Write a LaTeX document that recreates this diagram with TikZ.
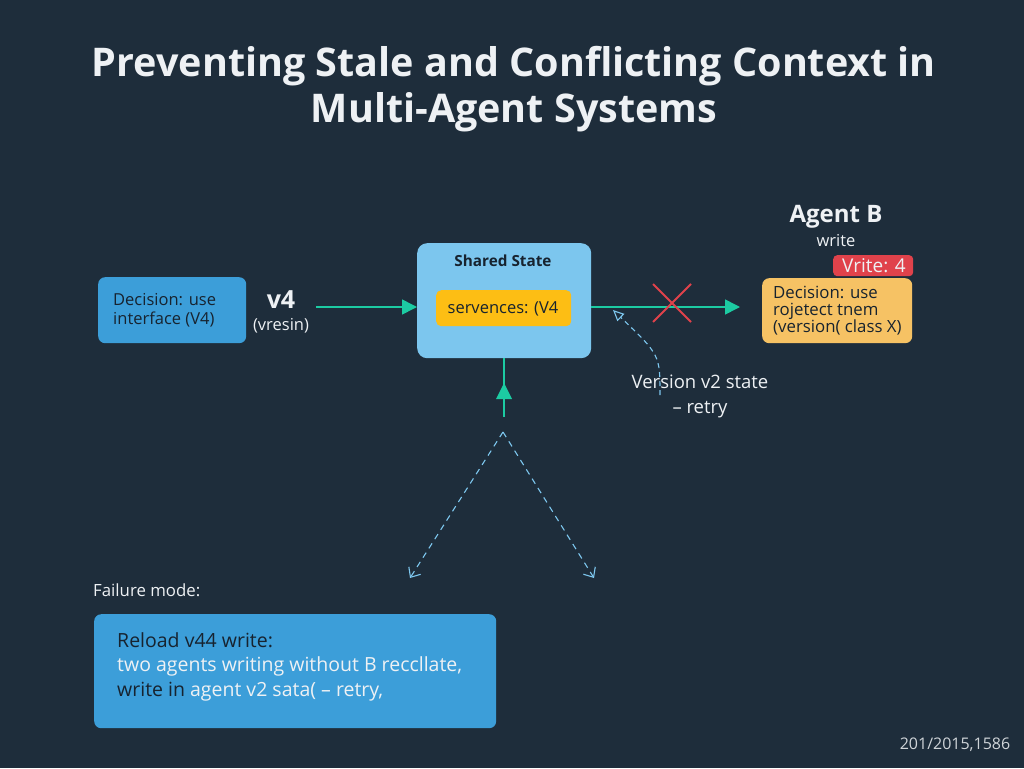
\documentclass[tikz,border=0pt]{standalone}
\usepackage{fontspec}
\setmainfont{Open Sans}
\usetikzlibrary{arrows.meta,calc}
\definecolor{bg}{HTML}{1E2D3B}
\definecolor{boxblue}{HTML}{3C9ED9}
\definecolor{shared}{HTML}{7CC6EE}
\definecolor{yel}{HTML}{FDBE14}
\definecolor{orng}{HTML}{F6C264}
\definecolor{teal}{HTML}{1CCBA2}
\definecolor{redx}{HTML}{E0424B}
\definecolor{dashb}{HTML}{7EC8F0}
\definecolor{darktext}{HTML}{17232F}
\definecolor{lighttext}{HTML}{EEF1F4}
\begin{document}
\begin{tikzpicture}[x=1pt,y=-1pt,
  box/.style={rounded corners=7pt, inner sep=0pt, anchor=north west},
  btext/.style={font=\fontsize{16.5}{18.5}\selectfont, text=darktext, align=left, anchor=west, inner sep=0pt},
  wtext/.style={text=lighttext},
  tealarrow/.style={draw=teal, line width=1.6pt, -{Triangle[length=15pt,width=15pt]}},
  dasharrow/.style={draw=dashb, line width=1.1pt, dash pattern=on 6pt off 5pt, -{Straight Barb[length=8pt,width=14pt]}}
]
\useasboundingbox (0,0) rectangle (1024,768);
\fill[bg] (0,0) rectangle (1024,768);

% title
\node[text=lighttext, font=\bfseries\fontsize{39.5}{46}\selectfont, align=center] (title) at (514,89)
  {Preventing Stale and Conflicting Context in\\Multi-Agent Systems};

% left decision box
\node[box, fill=boxblue, minimum width=148pt, minimum height=66pt] (dec) at (98,277) {};
\node[btext] (dect) at (113,310) {Decision: use\\interface (V4)};
\node[wtext, font=\bfseries\fontsize{25}{26}\selectfont] (v4) at (281,300) {v4};
\node[wtext, font=\fontsize{16.5}{17}\selectfont] (vres) at (281,326) {(vresin)};
\coordinate (a1s) at (316,307);

% shared state
\node[box, fill=shared, minimum width=174pt, minimum height=115pt, rounded corners=10pt] (ss) at (417,243) {};
\node[text=darktext, font=\bfseries\fontsize{15.3}{16}\selectfont] (sst) at (503,261) {Shared State};
\node[box, fill=yel, minimum width=135pt, minimum height=36pt, rounded corners=5pt] (sv) at (436,290) {};
\node[text=darktext, font=\fontsize{16.5}{18}\selectfont] (svt) at (503,309) {servences: (V4};

\draw[tealarrow] (a1s) -- (ss.west |- a1s);

% to agent B
\node[box, fill=orng, minimum width=150pt, minimum height=65pt] (ab) at (762,278) {};
\node[btext, font=\fontsize{16.8}{17}\selectfont] (abt) at (773,311) {Decision: use\\rojetect tnem\\(version( class X)};
\node[box, fill=redx, minimum width=80pt, minimum height=21pt, rounded corners=4pt] (badge) at (833,255) {};
\node[wtext, font=\fontsize{19}{19}\selectfont] (badget) at (874,265.5) {Vrite: 4};
\node[wtext, font=\bfseries\fontsize{24}{26}\selectfont] (agb) at (836,217) {Agent B};
\node[wtext, font=\fontsize{16.5}{18}\selectfont] (agw) at (836,241) {write};

\coordinate (bend) at (740,307);
\draw[tealarrow] (ss.east |- bend) -- (bend);
\coordinate (xc) at (672,303);
\draw[redx, line width=2pt] ($(xc)+(-19,-19)$) -- ($(xc)+(19,19)$) ($(xc)+(-19,19)$) -- ($(xc)+(19,-19)$);

% dashed curve
\coordinate (cv1) at (660,395);
\coordinate (cv2) at (613,310);
\draw[draw=dashb, line width=1.1pt, dash pattern=on 5pt off 4pt, -{Triangle[open,length=11pt,width=10pt]}]
  (cv1) .. controls (660,355) .. (cv2);
\node[wtext, font=\fontsize{18.5}{25}\selectfont, align=center] (ver) at (700,396) {Version v2 state\\– retry};

% upward arrow
\coordinate (up0) at (504,417);
\draw[draw=teal, line width=1.6pt] (up0) -- (ss.south -| up0);
\fill[teal] (504,383) -- (496,399) -- (512,399) -- cycle;

% dashed split
\coordinate (apex) at (503,432);
\coordinate (dl) at (410,578);
\coordinate (dr) at (594,578);
\draw[dasharrow] (apex) -- (dl);
\draw[dasharrow] (apex) -- (dr);

% failure mode
\node[wtext, font=\fontsize{16.8}{18}\selectfont, anchor=west, inner sep=0pt] (fm) at (93,590) {Failure mode:};
\node[box, fill=boxblue, minimum width=402pt, minimum height=114pt] (fb) at (94,614) {};
\node[anchor=west, inner sep=0pt, font=\fontsize{19.5}{20}\selectfont, text=darktext] (f1) at (117,640) {Reload v44 write:};
\node[anchor=west, inner sep=0pt, font=\fontsize{19.5}{20}\selectfont, text=lighttext] (f2) at (117,666) {two agents writing without B reccllate,};
\node[anchor=west, inner sep=0pt, font=\fontsize{19.5}{20}\selectfont, text=darktext] (f3) at (117,692) {write in \textcolor{lighttext}{agent v2 sata( – retry,}};

% footer
\node[font=\fontsize{16}{16}\selectfont, text=lighttext!85!bg] (foot) at (955,745) {201/2015,1586};
\end{tikzpicture}
\end{document}
